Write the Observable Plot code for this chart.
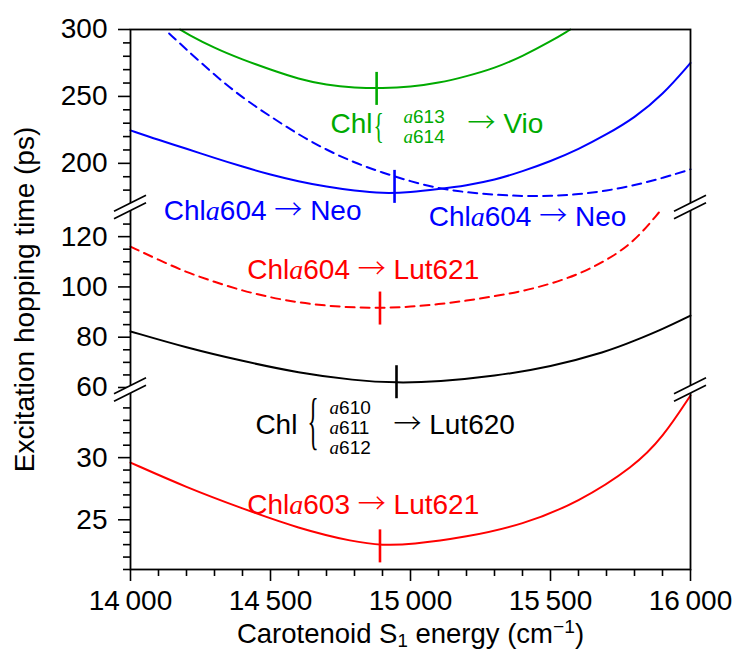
<!DOCTYPE html>
<html><head><meta charset="utf-8">
<script src="https://cdn.jsdelivr.net/npm/d3@7"></script>
<script src="https://cdn.jsdelivr.net/npm/@observablehq/plot@0.6"></script>
<style>
html,body{margin:0;padding:0;background:#fff;}
#chart{width:735px;height:650px;}
</style></head><body><div id="chart"></div>
<script>
// ---------- data ----------
// Chl a613/a614 -> Vio (green, solid)
const greenE = [14177, 14200, 14300, 14400, 14500, 14600, 14700, 14800, 14900, 15000, 15100, 15200, 15300, 15400, 15500, 15571];
const greenT = [300, 297, 286, 277.5, 270, 263, 258.5, 256.5, 256, 257, 260, 265, 271, 280, 291, 300];
// Chl a604 -> Neo (blue, solid)
const blueE = [14000, 14100, 14200, 14300, 14400, 14500, 14600, 14700, 14800, 14900, 15000, 15100, 15200, 15300, 15400, 15500, 15600, 15700, 15800, 15900, 16000];
const blueT = [224.6, 217.5, 211, 204, 197.5, 191.5, 186.5, 182.5, 179.5, 177.5, 178.3, 180.8, 183.5, 187.5, 194, 201.5, 210.5, 221.5, 234, 251, 275];
// Chl a604 -> Neo (blue, dashed)
const blueDashE = [14138, 14200, 14300, 14400, 14500, 14600, 14700, 14800, 14900, 15000, 15100, 15200, 15300, 15400, 15500, 15600, 15700, 15800, 15900, 16000];
const blueDashT = [297, 285, 266, 249, 235, 221.5, 210, 200.5, 193, 186.5, 181.3, 178.3, 176.5, 175.5, 175.5, 176.8, 179.5, 183.5, 189, 195.5];
// Chl a604 -> Lut621 (red, dashed)
const redDashE = [14000, 14100, 14200, 14300, 14400, 14500, 14600, 14700, 14800, 14900, 15000, 15100, 15200, 15300, 15400, 15500, 15600, 15700, 15800, 15890];
const redDashT = [116, 110.8, 105.8, 102, 98.5, 95.8, 93.8, 92.5, 91.8, 91.6, 92.1, 93.1, 94.5, 96.3, 98.3, 101.2, 105, 110.5, 118, 130];
// Chl a610/a611/a612 -> Lut620 (black, solid)
const blackE = [14000, 14200, 14400, 14600, 14800, 14950, 15100, 15300, 15500, 15700, 15800, 15900, 16000];
const blackT = [82.3, 75.8, 70.5, 65.8, 62.8, 61.8, 62.3, 64.5, 68.2, 74.2, 78.6, 83.2, 88.6];
// Chl a603 -> Lut621 (red, solid)
const redE = [14000, 14200, 14400, 14600, 14800, 14900, 15000, 15200, 15400, 15600, 15800, 15900, 16000];
const redT = [29.6, 27.6, 25.9, 24.3, 23.2, 22.95, 23.0, 23.6, 24.6, 26.4, 29.3, 31.6, 35.0];

// carotenoid S1 energy markers
const markerE = [14879, 14943, 14891, 14950, 14891];
const markerT = [256, 182.8, 91.6, 62.3, 22.9];
const markerSeries = ["green", "blue", "red", "black", "red"];

// ticks
const xMajorTicks = [14000, 14500, 15000, 15500, 16000];
const xMinorTicks = [14100, 14200, 14300, 14400, 14600, 14700, 14800, 14900, 15100, 15200, 15300, 15400, 15600, 15700, 15800, 15900];
const yMajorTicks = [25, 30, 60, 80, 100, 120, 200, 250, 300];
const yMinorTicks = [21, 22, 23, 24, 26, 27, 28, 29, 31, 32, 33, 34, 65, 70, 75, 85, 90, 95, 105, 110, 115, 125, 180, 190, 210, 220, 230, 240, 260, 270, 280, 290];

// broken axis: three segments
const ySegmentDomain = [21, 35.4, 60, 130, 170, 300];
const yBreakValues = [150, 40];

// ---------- styling ----------
const COLORS = {green: "#00aa00", blue: "#0000ff", red: "#ff0000", black: "#000000"};
const SANS = "'Liberation Sans', Arial, Helvetica, sans-serif";
const SERIF = "'Liberation Serif', 'Times New Roman', serif";
const ARROWFONT = "'Noto Sans CJK JP', 'Noto Sans CJK SC', 'DejaVu Sans', sans-serif";

const pts = (E, T) => E.map((e, i) => ({E: e, T: T[i]}));
const series = [
  {E: greenE, T: greenT, c: "green", dash: undefined},
  {E: blueE, T: blueT, c: "blue", dash: undefined},
  {E: blueDashE, T: blueDashT, c: "blue", dash: "9,6"},
  {E: redDashE, T: redDashT, c: "red", dash: "9,6"},
  {E: blackE, T: blackT, c: "black", dash: undefined},
  {E: redE, T: redT, c: "red", dash: undefined}
];

const annotations = [
  {text: "Chl", E: 14714, T: 229.6, c: "green", size: 28},
  {text: "{", E: 14868, T: 228.4, c: "green", size: 36, brace: 0.6},
  {text: "*a*613\n*a*614", E: 14975, T: 227.3, c: "green", size: 19},
  {text: "→ Vio", E: 15204, T: 229.6, c: "green", size: 28},
  {text: "Chl*a*604 → Neo", E: 14119, T: 133.5, c: "blue", size: 28},
  {text: "Chl*a*604 → Neo", E: 15065, T: 127.9, c: "blue", size: 28},
  {text: "Chl*a*604 → Lut621", E: 14417, T: 106.8, c: "red", size: 28},
  {text: "Chl", E: 14446, T: 32.66, c: "black", size: 28},
  {text: "{", E: 14632, T: 32.95, c: "black", size: 63, brace: 0.37},
  {text: "*a*610\n*a*611\n*a*612", E: 14711, T: 32.4, c: "black", size: 19},
  {text: "→ Lut620", E: 14939, T: 32.64, c: "black", size: 28},
  {text: "Chl*a*603 → Lut621", E: 14417, T: 26.19, c: "red", size: 28}
];

const vbar = {draw(context) { context.moveTo(0, -16.5); context.lineTo(0, 16.5); }};

function breakMarks(index, scales, values, dims) {
  const g = d3.create("svg:g");
  const xs = [dims.marginLeft, dims.width - dims.marginRight];
  for (const v of yBreakValues) {
    const yc = scales.y(v);
    for (const xc of xs) {
      g.append("path").attr("fill", "white")
        .attr("d", `M${xc - 16},${yc + 11.75}L${xc + 16},${yc - 4.25}L${xc + 16},${yc - 11.75}L${xc - 16},${yc + 4.25}Z`);
      for (const o of [-3.75, 3.75]) {
        g.append("line").attr("x1", xc - 16).attr("y1", yc + o + 8).attr("x2", xc + 16).attr("y2", yc + o - 8)
          .attr("stroke", "black").attr("stroke-width", 1.8);
      }
    }
  }
  return g.node();
}

const fmtX = d => d3.format(",")(d).replace(",", "\u2009");

const chart = Plot.plot({
  width: 735,
  height: 650,
  marginLeft: 130,
  marginRight: 45,
  marginTop: 29,
  marginBottom: 81,
  style: {fontFamily: SANS, fontSize: "28px", background: "white", color: "black"},
  x: {domain: [14000, 16000], label: null},
  y: {type: "linear", domain: ySegmentDomain, range: [569, 390, 387, 211, 203, 29], label: null},
  color: {type: "identity"},
  marks: [
    ...series.map(s => Plot.line(pts(s.E, s.T), {x: "E", y: "T", stroke: COLORS[s.c], strokeWidth: 2, strokeDasharray: s.dash, curve: "basis"})),
    Plot.frame({stroke: "black", strokeWidth: 1.8}),
    Plot.axisX({ticks: xMajorTicks, tickSize: 12, tickPadding: 9, tickFormat: fmtX, fontSize: 28, strokeWidth: 1.6, label: null}),
    Plot.axisX({ticks: xMinorTicks, tickSize: 7, tickFormat: () => "", strokeWidth: 1.6, label: null}),
    Plot.axisY({ticks: yMajorTicks, tickSize: 12, tickPadding: 11, tickFormat: d => String(d), fontSize: 28, strokeWidth: 1.6, label: null}),
    Plot.axisY({ticks: yMinorTicks, tickSize: 7, tickFormat: () => "", strokeWidth: 1.6, label: null}),
    breakMarks,
    Plot.dot(markerE.map((e, i) => ({E: e, T: markerT[i], c: COLORS[markerSeries[i]]})),
      {x: "E", y: "T", stroke: "c", fill: "none", strokeWidth: 2.6, symbol: vbar, r: 5}),
    ...annotations.map(a => Plot.text([a], {
      x: "E", y: "T", text: d => d.text, fill: COLORS[a.c], fontSize: a.size,
      textAnchor: "start", lineAnchor: "middle", lineHeight: 1.06,
      fontFamily: a.brace ? SERIF : SANS
    })),
    Plot.text(["Excitation hopping time (ps)"], {text: d => d, frameAnchor: "left", rotate: -90, dx: -105.5, fontSize: 28, textAnchor: "middle", lineAnchor: "middle", fill: "black"}),
    Plot.text(["Carotenoid S_{1} energy (cm^{−1})"], {text: d => d, frameAnchor: "bottom", dy: 64.4, fontSize: 27.5, textAnchor: "middle", lineAnchor: "middle", fill: "black"})
  ]
});

document.getElementById("chart").appendChild(chart);

// ---------- rich text: italic a, arrows, subscripts, superscripts ----------
const NS = "http://www.w3.org/2000/svg";
function richify(el) {
  const s = el.textContent;
  if (!/[*_^→]/.test(s)) return;
  while (el.firstChild) el.removeChild(el.firstChild);
  const re = /\*([^*]+)\*|_\{([^}]*)\}|\^\{([^}]*)\}|(→)|([^*_^→]+)/g;
  let m, shift = 0;
  while ((m = re.exec(s))) {
    const t = document.createElementNS(NS, "tspan");
    let target = 0;
    if (m[1] != null) { t.textContent = m[1]; t.setAttribute("font-family", SERIF); t.setAttribute("font-style", "italic"); }
    else if (m[2] != null) { t.textContent = m[2]; t.setAttribute("font-size", "0.68em"); target = 4; }
    else if (m[3] != null) { t.textContent = m[3]; t.setAttribute("font-size", "0.7em"); target = -10; }
    else if (m[4] != null) { t.textContent = m[4]; t.setAttribute("font-family", ARROWFONT); t.setAttribute("font-weight", "300"); }
    else t.textContent = m[5];
    if (target !== shift) { t.setAttribute("dy", target - shift); shift = target; }
    el.appendChild(t);
  }
}
chart.querySelectorAll("text").forEach(t => {
  const lines = t.querySelectorAll(":scope > tspan");
  if (lines.length) lines.forEach(richify); else richify(t);
});

// narrow the large braces
const braceScales = annotations.filter(a => a.brace).map(a => a.brace);
[...chart.querySelectorAll("text")].filter(t => t.textContent === "{").forEach((t, i) => {
  const sx = braceScales[i] || 0.5;
  const tr = t.getAttribute("transform");
  if (tr) t.setAttribute("transform", tr + ` scale(${sx},1)`);
  else {
    const x = t.getAttribute("x") || 0, y = t.getAttribute("y") || 0;
    t.removeAttribute("x"); t.removeAttribute("y");
    t.setAttribute("transform", `translate(${x},${y}) scale(${sx},1)`);
  }
});
</script>
</body></html>
